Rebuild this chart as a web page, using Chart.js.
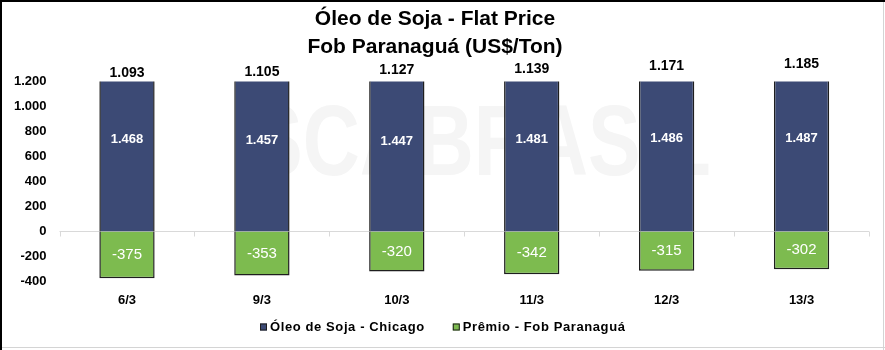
<!DOCTYPE html>
<html lang="pt-BR">
<head>
<meta charset="utf-8">
<title>Óleo de Soja - Flat Price</title>
<script src="https://cdn.jsdelivr.net/npm/chart.js@4/dist/chart.umd.min.js"></script>
<style>
  html, body { margin: 0; padding: 0; background: #ffffff; }
  #wrap { width: 885px; height: 350px; position: relative; }
</style>
</head>
<body>
<div id="wrap"><canvas id="chart" width="885" height="350"></canvas></div>
<script>
// Datas das cotações
const categories = ['6/3', '9/3', '10/3', '11/3', '12/3', '13/3'];
// Óleo de soja em Chicago (US$/t)
const chicago = [1468, 1457, 1447, 1481, 1486, 1487];
// Prêmio FOB Paranaguá (US$/t)
const premio = [-375, -353, -320, -342, -315, -302];
// Flat price resultante (US$/t)
const flatPrice = [1093, 1105, 1127, 1139, 1171, 1185];
// Escala do eixo vertical
const yTicks = [-400, -200, 0, 200, 400, 600, 800, 1000, 1200];

const FONT = "'Liberation Sans', Arial, sans-serif";
const BLUE = '#3c4a75';
const GREEN = '#7dbb4f';

function fmt(v) {
  const s = String(Math.abs(Math.round(v))).replace(/\B(?=(\d{3})+(?!\d))/g, '.');
  return (v < 0 ? '-' : '') + s;
}

// Marca d'água ao fundo da área do gráfico
const watermark = {
  id: 'watermark',
  beforeDatasetsDraw(chart) {
    const ctx = chart.ctx;
    ctx.save();
    ctx.fillStyle = '#f5f5f5';
    ctx.font = 'bold 100px ' + FONT;
    ctx.textBaseline = 'alphabetic';
    ctx.translate(250, 175);
    ctx.scale(0.79, 1);
    ctx.fillText('SCABRASIL', 0, 0);
    ctx.restore();
  }
};

// Linha do zero com marcas entre as categorias
const zeroLine = {
  id: 'zeroLine',
  beforeDatasetsDraw(chart) {
    const { ctx, chartArea, scales } = chart;
    const y0 = Math.round(scales.y.getPixelForValue(0)) + 0.5;
    const n = categories.length;
    const step = (chartArea.right - chartArea.left) / n;
    ctx.save();
    ctx.strokeStyle = '#d9d9d9';
    ctx.lineWidth = 1;
    ctx.beginPath();
    ctx.moveTo(chartArea.left, y0);
    ctx.lineTo(chartArea.right, y0);
    for (let i = 0; i <= n; i++) {
      const x = Math.round(chartArea.left + i * step) + 0.5;
      ctx.moveTo(x, y0);
      ctx.lineTo(x, y0 + 5);
    }
    ctx.stroke();
    ctx.restore();
  }
};

// Rótulos de valor das barras e do flat price
const valueLabels = {
  id: 'valueLabels',
  afterDatasetsDraw(chart) {
    const { ctx, scales } = chart;
    ctx.save();
    ctx.textAlign = 'center';
    ctx.textBaseline = 'middle';

    const m0 = chart.getDatasetMeta(0);
    ctx.fillStyle = '#ffffff';
    ctx.font = 'bold 13px ' + FONT;
    chicago.forEach((v, i) => {
      ctx.fillText(fmt(v), m0.data[i].x, scales.y.getPixelForValue(v / 2));
    });

    const m1 = chart.getDatasetMeta(1);
    ctx.font = '15px ' + FONT;
    premio.forEach((v, i) => {
      ctx.fillText(fmt(v), m1.data[i].x, scales.y.getPixelForValue(v / 2));
    });

    const m2 = chart.getDatasetMeta(2);
    ctx.fillStyle = '#000000';
    ctx.font = 'bold 14px ' + FONT;
    flatPrice.forEach((v, i) => {
      ctx.fillText(fmt(v), m2.data[i].x, m2.data[i].y);
    });
    ctx.restore();
  }
};

// Legenda centrada abaixo do eixo das datas
const bottomLegend = {
  id: 'bottomLegend',
  afterDraw(chart) {
    const ctx = chart.ctx;
    const items = [0, 1].map(i => ({
      text: chart.data.datasets[i].label,
      color: chart.data.datasets[i].backgroundColor
    }));
    const y = 327;
    const gap = 28, box = 7, boxGap = 3;
    ctx.save();
    ctx.font = 'bold 13px ' + FONT;
    if ('letterSpacing' in ctx) ctx.letterSpacing = '0.6px';
    ctx.textBaseline = 'middle';
    ctx.textAlign = 'left';
    const widths = items.map(it => box + boxGap + ctx.measureText(it.text).width);
    const total = widths.reduce((a, b) => a + b, 0) + gap * (items.length - 1);
    let x = Math.round((chart.width - total) / 2);
    items.forEach((it, k) => {
      ctx.fillStyle = it.color;
      ctx.fillRect(x, y - 3.5, box, box);
      ctx.strokeStyle = '#1e1e1e';
      ctx.lineWidth = 1;
      ctx.strokeRect(x + 0.5, y - 3, box - 1, box - 1);
      ctx.fillStyle = '#000000';
      ctx.fillText(it.text, x + box + boxGap, y);
      x += widths[k] + gap;
    });
    ctx.restore();
  }
};

// Moldura do quadro
const frame = {
  id: 'frame',
  afterDraw(chart) {
    const ctx = chart.ctx;
    const w = chart.width, h = chart.height;
    ctx.save();
    ctx.fillStyle = '#d4d4d4';
    ctx.fillRect(w - 2, 0, 1, h);
    ctx.fillRect(0, h - 3, w, 1);
    ctx.fillStyle = '#000000';
    ctx.fillRect(0, 0, w, 2);
    ctx.fillRect(0, 0, 2, h);
    ctx.restore();
  }
};

new Chart(document.getElementById('chart'), {
  type: 'bar',
  data: {
    labels: categories,
    datasets: [
      {
        label: 'Óleo de Soja - Chicago',
        data: chicago,
        backgroundColor: BLUE,
        borderColor: '#1e1e1e',
        borderWidth: 1.5,
        stack: 's'
      },
      {
        label: 'Prêmio - Fob Paranaguá',
        data: premio,
        backgroundColor: GREEN,
        borderColor: '#1e1e1e',
        borderWidth: 1.5,
        stack: 's'
      },
      {
        type: 'line',
        label: 'Flat Price',
        data: flatPrice,
        yAxisID: 'yTot',
        showLine: false,
        pointRadius: 0,
        pointHoverRadius: 0,
        clip: false
      }
    ]
  },
  options: {
    responsive: false,
    animation: false,
    layout: { padding: { left: 1, right: 16, top: 0, bottom: 31 } },
    datasets: {
      bar: { categoryPercentage: 1, barPercentage: 0.41 }
    },
    scales: {
      x: {
        stacked: true,
        grid: { display: false, drawTicks: false },
        border: { display: false },
        ticks: { color: '#000', font: { family: FONT, size: 13, weight: 'bold' }, padding: 11 }
      },
      y: {
        stacked: true,
        min: -400,
        max: 1200,
        afterBuildTicks(axis) { axis.ticks = yTicks.map(v => ({ value: v })); },
        grid: { display: false, drawTicks: false },
        border: { display: false },
        ticks: {
          color: '#000',
          font: { family: FONT, size: 13, weight: 'bold' },
          padding: 13,
          callback: v => fmt(v)
        }
      },
      yTot: {
        display: false,
        min: -997,
        max: 1011
      }
    },
    plugins: {
      title: {
        display: true,
        text: ['Óleo de Soja - Flat Price', 'Fob Paranaguá (US$/Ton)'],
        color: '#000',
        font: { family: FONT, size: 21, weight: 'bold', lineHeight: 1.3 },
        padding: { top: 6, bottom: 21 }
      },
      legend: { display: false },
      tooltip: { enabled: false }
    }
  },
  plugins: [watermark, zeroLine, valueLabels, bottomLegend, frame]
});
</script>
</body>
</html>
